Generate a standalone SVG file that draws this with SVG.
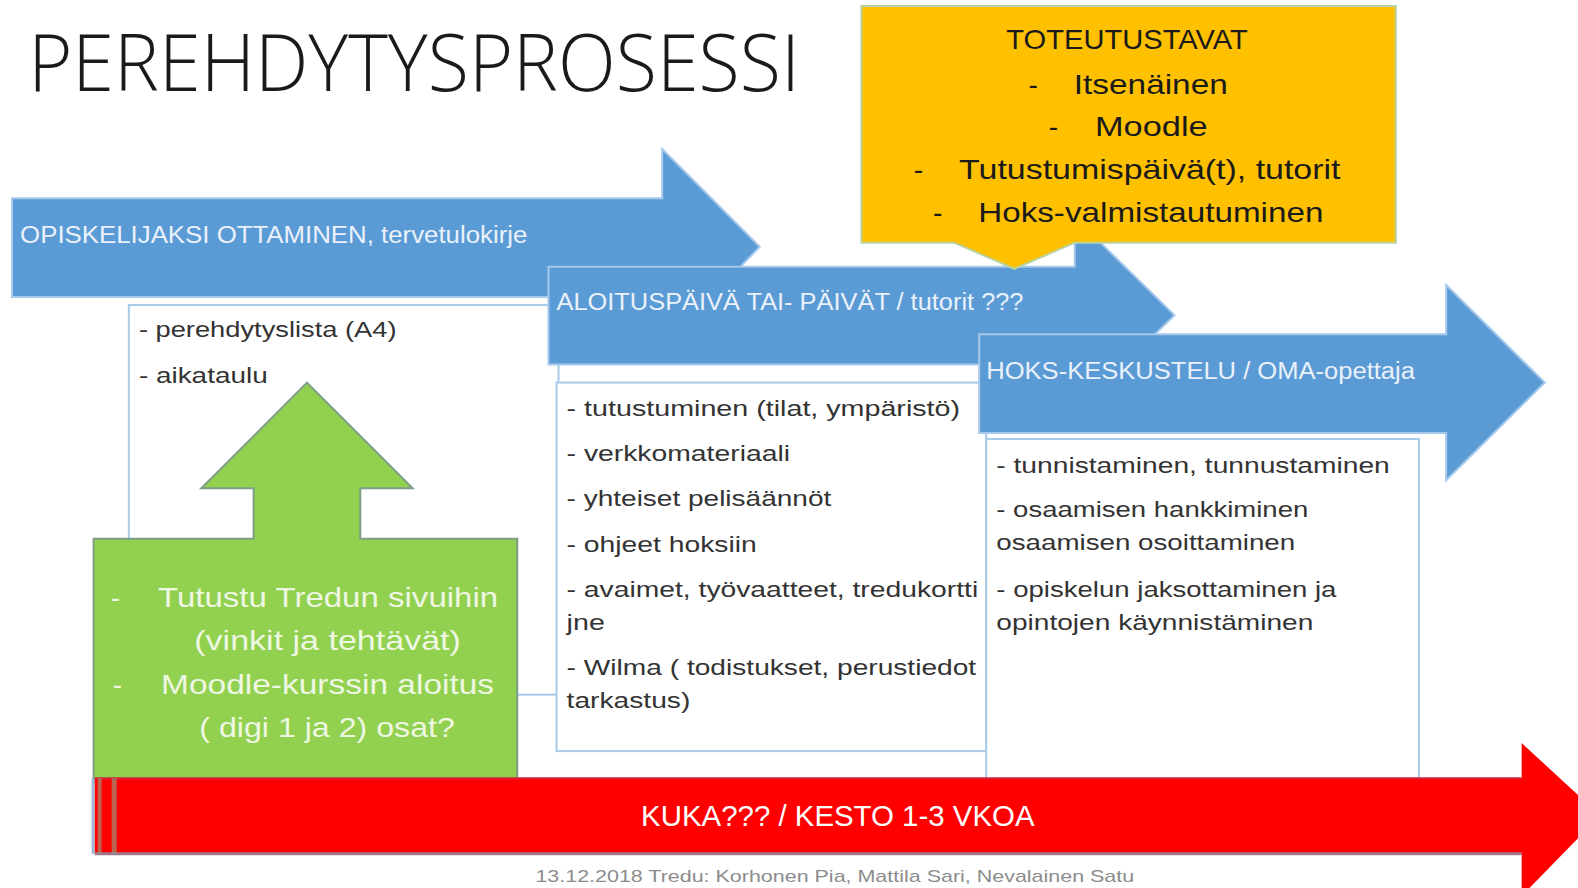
<svg xmlns="http://www.w3.org/2000/svg" width="1578" height="888" viewBox="0 0 1578 888">
<style>
.t{font-family:"Liberation Sans",Arial,sans-serif}
.arrow{fill:#5B9BD5;stroke:#A6C8EA;stroke-width:2}
.albl{font-size:24px;fill:#EAF1FA}
.box{fill:#FFFFFF;stroke:#A9CBEA;stroke-width:2}
.li{font-size:22px;fill:#333333}
.gt{font-size:28px;fill:#EEF7E2}
.ct{font-size:28px;fill:#1A1A1A}
</style>
<rect width="1578" height="888" fill="#FFFFFF"/>
<g transform="scale(1.00638 1.0068)">
<text class="t" x="28" y="90" font-size="78" fill="#1A1A1A" textLength="767" lengthAdjust="spacingAndGlyphs" style="font-family:'Open Sans','Liberation Sans',sans-serif;font-weight:300">PEREHDYTYSPROSESSI</text>

<g id="arrow1">
<path class="arrow" d="M12,197 H658 V148 L755,245 L658,345 V295 H12 Z"/>
<text class="t albl" x="20" y="241" textLength="504" lengthAdjust="spacingAndGlyphs">OPISKELIJAKSI OTTAMINEN, tervetulokirje</text>
</g>
<g id="box1">
<rect class="box" x="128" y="303" width="427" height="387"/>
<text class="t li" x="138" y="335" textLength="256" lengthAdjust="spacingAndGlyphs">- perehdytyslista (A4)</text>
<text class="t li" x="138" y="380" textLength="128" lengthAdjust="spacingAndGlyphs">- aikataulu</text>
</g>
<g id="arrow2">
<path class="arrow" d="M545,265 H1068 V216 L1167,313 L1068,410 V362 H545 Z"/>
<text class="t albl" x="553" y="308" textLength="464" lengthAdjust="spacingAndGlyphs">ALOITUSPÄIVÄ TAI- PÄIVÄT / tutorit ???</text>
</g>
<g id="box2">
<rect class="box" x="553" y="380" width="427" height="366"/>
<text class="t li" x="563" y="413" textLength="391" lengthAdjust="spacingAndGlyphs">- tutustuminen (tilat, ympäristö)</text>
<text class="t li" x="563" y="458" textLength="222" lengthAdjust="spacingAndGlyphs">- verkkomateriaali</text>
<text class="t li" x="563" y="503" textLength="263" lengthAdjust="spacingAndGlyphs">- yhteiset pelisäännöt</text>
<text class="t li" x="563" y="548" textLength="189" lengthAdjust="spacingAndGlyphs">- ohjeet hoksiin</text>
<text class="t li" x="563" y="593" textLength="409" lengthAdjust="spacingAndGlyphs">- avaimet, työvaatteet, tredukortti</text>
<text class="t li" x="563" y="626" textLength="38" lengthAdjust="spacingAndGlyphs">jne</text>
<text class="t li" x="563" y="670" textLength="407" lengthAdjust="spacingAndGlyphs">- Wilma ( todistukset, perustiedot</text>
<text class="t li" x="563" y="703" textLength="123" lengthAdjust="spacingAndGlyphs">tarkastus)</text>
</g>
<g id="arrow3">
<path class="arrow" d="M973,332 H1437 V283 L1535,380 L1437,477 V430 H973 Z"/>
<text class="t albl" x="980" y="376" textLength="426" lengthAdjust="spacingAndGlyphs">HOKS-KESKUSTELU / OMA-opettaja</text>
</g>
<g id="box3">
<rect class="box" x="980" y="436" width="430" height="340"/>
<text class="t li" x="990" y="470" textLength="391" lengthAdjust="spacingAndGlyphs">- tunnistaminen, tunnustaminen</text>
<text class="t li" x="990" y="514" textLength="310" lengthAdjust="spacingAndGlyphs">- osaamisen hankkiminen</text>
<text class="t li" x="990" y="546" textLength="297" lengthAdjust="spacingAndGlyphs">osaamisen osoittaminen</text>
<text class="t li" x="990" y="593" textLength="338" lengthAdjust="spacingAndGlyphs">- opiskelun jaksottaminen ja</text>
<text class="t li" x="990" y="626" textLength="315" lengthAdjust="spacingAndGlyphs">opintojen käynnistäminen</text>
</g>
<g id="green">
<path d="M93,535 H252 V485 H200 L305,380 L410,485 H358 V535 H514 V776 H93 Z" fill="#92D050" stroke="#7E9E86" stroke-width="2"/>
<text class="t gt" x="110" y="603">-</text>
<text class="t gt" x="157" y="603" textLength="338" lengthAdjust="spacingAndGlyphs">Tutustu Tredun sivuihin</text>
<text class="t gt" x="193" y="646" textLength="265" lengthAdjust="spacingAndGlyphs">(vinkit ja tehtävät)</text>
<text class="t gt" x="112" y="689">-</text>
<text class="t gt" x="160" y="689" textLength="331" lengthAdjust="spacingAndGlyphs">Moodle-kurssin aloitus</text>
<text class="t gt" x="198" y="732" textLength="254" lengthAdjust="spacingAndGlyphs">( digi 1 ja 2) osat?</text>
</g>
<g id="callout">
<path d="M856,6 H1387 V241 H1068 L1008,267 L948,241 H856 Z" fill="#FFC000" stroke="#B9D3A0" stroke-width="2"/>
<text class="t ct" x="1000" y="49" font-size="26" textLength="240" lengthAdjust="spacingAndGlyphs">TOTEUTUSTAVAT</text>
<text class="t ct" x="1022" y="93">-</text>
<text class="t ct" x="1067" y="93" textLength="153" lengthAdjust="spacingAndGlyphs">Itsenäinen</text>
<text class="t ct" x="1042" y="135">-</text>
<text class="t ct" x="1088" y="135" textLength="112" lengthAdjust="spacingAndGlyphs">Moodle</text>
<text class="t ct" x="908" y="178">-</text>
<text class="t ct" x="953" y="178" textLength="379" lengthAdjust="spacingAndGlyphs">Tutustumispäivä(t), tutorit</text>
<text class="t ct" x="927" y="221">-</text>
<text class="t ct" x="972" y="221" textLength="343" lengthAdjust="spacingAndGlyphs">Hoks-valmistautuminen</text>
</g>
<g id="red">
<path d="M94,773 H1512 V738 L1590,810 L1512,890 V848 H94 Z" fill="#FF0000"/>
<line x1="94" y1="848" x2="1512" y2="848" stroke="#A0788C" stroke-width="3"/>
<line x1="94" y1="773" x2="1512" y2="773" stroke="#D0263A" stroke-width="2"/>
<rect x="91" y="773" width="3" height="75" fill="#A0B4D4"/>
<rect x="97" y="773" width="4" height="75" fill="#8AA88A" opacity="0.6"/>
<rect x="111" y="773" width="5" height="75" fill="#8AA88A" opacity="0.6"/>
<text class="t" x="637" y="820" font-size="30" fill="#FFFFFF" textLength="391" lengthAdjust="spacingAndGlyphs">KUKA??? / KESTO 1-3 VKOA</text>
</g>
<text class="t" x="532" y="876" font-size="16" fill="#8C8C8C" textLength="595" lengthAdjust="spacingAndGlyphs">13.12.2018 Tredu: Korhonen Pia, Mattila Sari, Nevalainen Satu</text>
</g>
</svg>
